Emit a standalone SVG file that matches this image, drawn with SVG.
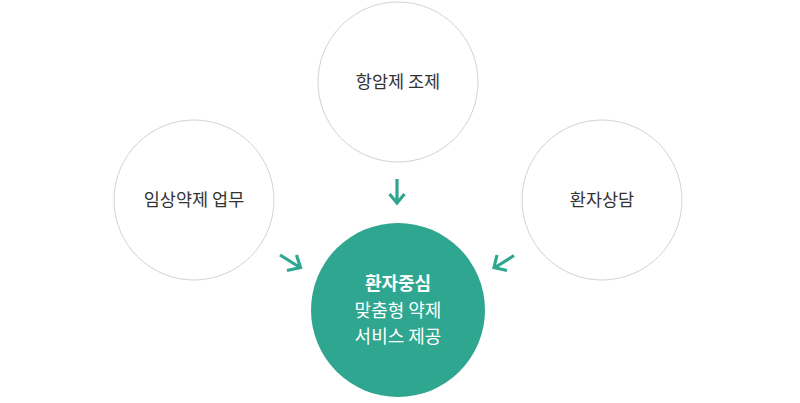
<svg xmlns="http://www.w3.org/2000/svg" width="800" height="403" viewBox="0 0 800 403">
<style>
.c{fill:#fff;stroke:#d2d2d2;stroke-width:1}
.t{font-family:"Noto Sans CJK KR","Noto Sans",sans-serif;font-size:17.5px;fill:#333;text-anchor:middle}
.w{font-family:"Noto Sans CJK KR","Noto Sans",sans-serif;font-size:18px;fill:#fff;text-anchor:middle}
.a{fill:none;stroke:#2ea690;stroke-width:3.2;stroke-linecap:butt;stroke-linejoin:miter}
</style>
<rect width="800" height="403" fill="#fff"/>
<g id="top"><circle class="c" cx="398" cy="82" r="80"/><text class="t" x="398" y="88">항암제 조제</text></g>
<g id="left"><circle class="c" cx="194" cy="200" r="80"/><text class="t" x="194" y="206">임상약제 업무</text></g>
<g id="right"><circle class="c" cx="602" cy="200" r="80"/><text class="t" x="602" y="206">환자상담</text></g>
<g id="center"><circle cx="398" cy="310" r="87" fill="#2ea690"/>
<text class="w" x="398" y="290" font-weight="bold">환자중심</text>
<text class="w" x="398" y="317">맞춤형 약제</text>
<text class="w" x="398" y="343">서비스 제공</text></g>
<g id="connectors">
<path class="a" d="M397,179V203M389.5,194L397,203L404.5,194"/>
<path class="a" d="M280,255L300,267.5M296.5,255L300.5,267.5L287,270.5"/>
<path class="a" d="M514,255.5L495,267.5M497,255L494,267.5L507,270.5"/>
</g>
</svg>
